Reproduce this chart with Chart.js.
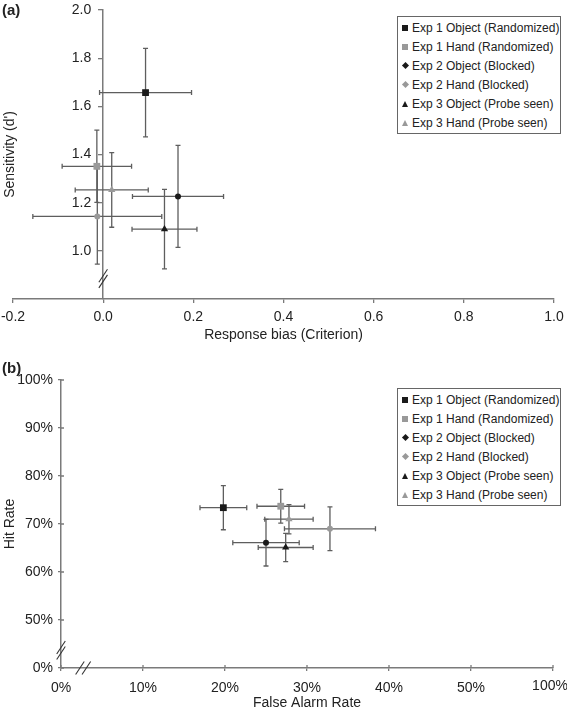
<!DOCTYPE html>
<html lang="en">
<head>
<meta charset="UTF-8">
<title>Sensitivity, bias and hit rate by experiment</title>
<script src="https://cdn.jsdelivr.net/npm/chart.js@4.4.1/dist/chart.umd.min.js"></script>
<style>
  body { margin: 0; background: #fff; font-family: 'Liberation Sans', Arial, sans-serif; color: #222; }
  .page { position: relative; width: 567px; height: 712px; overflow: hidden; }
  canvas { position: absolute; left: 0; }
  #chartA { top: 0; }
  #chartB { top: 345px; }
  .tag { position: absolute; left: 2px; font-weight: bold; font-size: 15px; line-height: 18px; }
  .legend { position: absolute; left: 397px; width: 162px; border: 1px solid #666; background: #fff; padding: 1px 0; font-size: 12px; }
  .legend .row { height: 19px; display: flex; align-items: center; white-space: nowrap; }
  .legend .slot { width: 14px; height: 19px; display: flex; align-items: center; justify-content: center; }
  .mk-square { width: 6px; height: 6px; }
  .mk-diamond { width: 5px; height: 5px; transform: rotate(45deg); }
  .mk-triangle { width: 0; height: 0; border-left: 3.5px solid transparent; border-right: 3.5px solid transparent; border-bottom: 6px solid; }
</style>
</head>
<body>
<div class="page">
  <canvas id="chartA" width="567" height="345"></canvas>
  <canvas id="chartB" width="567" height="367"></canvas>
  <div class="tag" style="top:1px">(a)</div>
  <div class="tag" style="top:359px">(b)</div>
  <div class="legend" id="legendA" style="top:16px"></div>
  <div class="legend" id="legendB" style="top:388px"></div>
</div>
<script>
const seriesNames = ['Exp 1 Object (Randomized)', 'Exp 1 Hand (Randomized)', 'Exp 2 Object (Blocked)',
                     'Exp 2 Hand (Blocked)', 'Exp 3 Object (Probe seen)', 'Exp 3 Hand (Probe seen)'];

// panel (a): criterion vs d'
const biasValues   = [0.094, -0.014, 0.166, -0.013, 0.136, 0.019];
const biasErrors   = [0.102, 0.077, 0.101, 0.143, 0.072, 0.081];
const dprimeValues = [1.657, 1.351, 1.226, 1.143, 1.090, 1.253];
const dprimeErrors = [0.184, 0.150, 0.212, 0.198, 0.165, 0.155];
const biasTicks   = [-0.2, 0, 0.2, 0.4, 0.6, 0.8, 1.0];
const dprimeTicks = [1.0, 1.2, 1.4, 1.6, 1.8, 2.0];

// panel (b): false alarm rate vs hit rate (%)
const faValues   = [19.8, 26.8, 25.0, 32.8, 27.4, 27.8];
const faErrors   = [2.85, 2.9, 4.05, 5.55, 3.35, 2.95];
const hitValues  = [73.4, 73.7, 66.1, 69.0, 65.1, 71.0];
const hitErrors  = [4.6, 3.5, 4.85, 4.55, 2.95, 3.05];
const faTicks      = [0, 10, 20, 30, 40, 50, 60];
const faTickLabels = ['0%', '10%', '20%', '30%', '40%', '50%', '100%'];
const hitTicks      = [40, 50, 60, 70, 80, 90, 100];
const hitTickLabels = ['0%', '50%', '60%', '70%', '80%', '90%', '100%'];

// styling
const seriesColors = ['#1a1a1a', '#999999', '#1a1a1a', '#999999', '#1a1a1a', '#999999'];
const pointShapes  = ['rect', 'rect', 'circle', 'circle', 'triangle', 'triangle'];
const pointSizes   = [4.8, 4.8, 3, 3, 4.2, 4.2];
const legendShapes = ['square', 'square', 'diamond', 'diamond', 'triangle', 'triangle'];
const axisColor = '#7a7a7a';
const textColor = '#222';
const font = { family: "'Liberation Sans', Arial, sans-serif", size: 14 };

// draws x/y error bars with caps, under the markers
const errorBars = {
  id: 'errorBars',
  beforeDatasetsDraw(chart, args, opts) {
    const { ctx, scales: { x, y } } = chart;
    const c = opts.cap;
    ctx.save();
    ctx.strokeStyle = opts.color;
    ctx.lineWidth = opts.width;
    chart.data.datasets.forEach(ds => {
      const p = ds.data[0];
      const px = x.getPixelForValue(p.x), py = y.getPixelForValue(p.y);
      const x0 = x.getPixelForValue(p.x - ds.errX), x1 = x.getPixelForValue(p.x + ds.errX);
      const y0 = y.getPixelForValue(p.y - ds.errY), y1 = y.getPixelForValue(p.y + ds.errY);
      ctx.beginPath();
      ctx.moveTo(x0, py); ctx.lineTo(x1, py);
      ctx.moveTo(x0, py - c); ctx.lineTo(x0, py + c);
      ctx.moveTo(x1, py - c); ctx.lineTo(x1, py + c);
      ctx.moveTo(px, y0); ctx.lineTo(px, y1);
      ctx.moveTo(px - c, y0); ctx.lineTo(px + c, y0);
      ctx.moveTo(px - c, y1); ctx.lineTo(px + c, y1);
      ctx.stroke();
    });
    ctx.restore();
  }
};

// "//" marks for broken axes
const axisBreaks = {
  id: 'axisBreaks',
  afterDraw(chart, args, opts) {
    const { ctx, scales: { x, y } } = chart;
    ctx.save();
    ctx.strokeStyle = '#333';
    ctx.lineWidth = 1.1;
    (opts.marks || []).forEach(m => {
      const onY = m.axis === 'y';
      const cx = onY ? x.getPixelForValue(m.at) : x.getPixelForValue(m.value);
      const cy = onY ? y.getPixelForValue(m.value) : y.getPixelForValue(m.at);
      [-1, 1].forEach(s => {
        const bx = cx + (onY ? 0 : s * 3.2), by = cy + (onY ? s * 2.8 : 0);
        ctx.beginPath();
        ctx.moveTo(bx - 4.3, by + 6.5);
        ctx.lineTo(bx + 4.3, by - 6.5);
        ctx.stroke();
      });
    });
    ctx.restore();
  }
};

// tick marks pointing into the plot (panel b has crossing ticks)
const innerTicks = {
  id: 'innerTicks',
  afterDraw(chart, args, opts) {
    if (!opts.length) return;
    const { ctx, scales: { x, y }, chartArea } = chart;
    ctx.save();
    ctx.strokeStyle = axisColor;
    ctx.lineWidth = 1.3;
    ctx.beginPath();
    x.ticks.forEach(t => {
      const px = x.getPixelForValue(t.value);
      ctx.moveTo(px, chartArea.bottom); ctx.lineTo(px, chartArea.bottom - opts.length);
    });
    y.ticks.forEach(t => {
      const py = y.getPixelForValue(t.value);
      ctx.moveTo(chartArea.left, py); ctx.lineTo(chartArea.left + opts.length, py);
    });
    ctx.stroke();
    ctx.restore();
  }
};

// moves tick labels after the scale laid them out
// (the y axis placed at x = 0 puts its labels flush against the line)
const labelNudge = {
  id: 'labelNudge',
  beforeDraw(chart, args, opts) {
    (opts.shifts || []).forEach(sh => {
      const items = chart.scales[sh.scale].getLabelItems(chart.chartArea);
      items.forEach((it, i) => {
        if (it._nudged || (sh.index !== undefined && sh.index !== i)) return;
        it.options.translation[0] += sh.dx;
        it.options.translation[1] += sh.dy;
        it._nudged = true;
      });
    });
  }
};

// rotated y title for the axis that sits inside the plot
const sideTitle = {
  id: 'sideTitle',
  afterDraw(chart, args, opts) {
    if (!opts.text) return;
    const { ctx, chartArea } = chart;
    ctx.save();
    ctx.translate(opts.x, (chartArea.top + chartArea.bottom) / 2);
    ctx.rotate(-Math.PI / 2);
    ctx.font = font.size + 'px ' + font.family;
    ctx.fillStyle = textColor;
    ctx.textAlign = 'center';
    ctx.textBaseline = 'middle';
    ctx.fillText(opts.text, 0, 0);
    ctx.restore();
  }
};

function makeDatasets(xs, xErr, ys, yErr) {
  return seriesNames.map((name, i) => ({
    label: name,
    data: [{ x: xs[i], y: ys[i] }],
    errX: xErr[i],
    errY: yErr[i],
    pointStyle: pointShapes[i],
    pointRadius: pointSizes[i],
    pointHoverRadius: pointSizes[i],
    backgroundColor: seriesColors[i],
    borderColor: seriesColors[i],
    borderWidth: 0
  }));
}

function setTicks(values) {
  return scale => { scale.ticks = values.map(v => ({ value: v })); };
}

function buildLegend(id) {
  const box = document.getElementById(id);
  seriesNames.forEach((name, i) => {
    const row = document.createElement('div');
    row.className = 'row';
    const slot = document.createElement('span');
    slot.className = 'slot';
    const mk = document.createElement('span');
    mk.className = 'mk-' + legendShapes[i];
    if (legendShapes[i] === 'triangle') mk.style.borderBottomColor = seriesColors[i];
    else mk.style.background = seriesColors[i];
    slot.appendChild(mk);
    const txt = document.createElement('span');
    txt.textContent = name;
    row.appendChild(slot);
    row.appendChild(txt);
    box.appendChild(row);
  });
}

const commonPlugins = {
  legend: { display: false },
  tooltip: { enabled: false },
  errorBars: { color: '#5e5e5e', width: 1.3, cap: 2.5 }
};

// panel (a)
new Chart(document.getElementById('chartA'), {
  type: 'scatter',
  data: { datasets: makeDatasets(biasValues, biasErrors, dprimeValues, dprimeErrors) },
  plugins: [labelNudge, errorBars, axisBreaks, innerTicks, sideTitle],
  options: {
    responsive: false,
    animation: false,
    layout: { padding: { left: 13, right: 13, top: 10, bottom: 0 } },
    plugins: {
      ...commonPlugins,
      labelNudge: { shifts: [{ scale: 'y', dx: -12, dy: 0 }] },
      axisBreaks: { marks: [{ axis: 'y', at: 0, value: 0.885 }] },
      innerTicks: { length: 0 },
      sideTitle: { text: "Sensitivity (d')", x: 10 }
    },
    scales: {
      x: {
        type: 'linear', position: 'bottom', min: -0.2, max: 1.0,
        afterBuildTicks: setTicks(biasTicks),
        afterFit: s => { s.height = 46; s.paddingLeft = 0; s.paddingRight = 0; },
        ticks: { callback: v => v.toFixed(1), font, color: textColor, padding: 6, maxRotation: 0 },
        grid: { drawOnChartArea: false, tickLength: 4, color: axisColor, lineWidth: 1.3 },
        border: { color: axisColor, width: 1.5 },
        title: { display: true, text: 'Response bias (Criterion)', font, color: textColor, padding: { top: 0, bottom: 1 } }
      },
      y: {
        type: 'linear', position: { x: 0 }, min: 0.8, max: 2.0,
        afterBuildTicks: setTicks(dprimeTicks),
        afterFit: s => { s.paddingTop = 0; s.paddingBottom = 0; },
        ticks: { callback: v => v.toFixed(1), font, color: textColor, padding: 8 },
        grid: { drawOnChartArea: false, tickLength: 4, color: axisColor, lineWidth: 1.3 },
        border: { color: axisColor, width: 1.5 }
      }
    }
  }
});

// panel (b)
new Chart(document.getElementById('chartB'), {
  type: 'scatter',
  data: { datasets: makeDatasets(faValues, faErrors, hitValues, hitErrors) },
  plugins: [labelNudge, errorBars, axisBreaks, innerTicks, sideTitle],
  options: {
    responsive: false,
    animation: false,
    layout: { padding: { left: 0, right: 14, top: 35, bottom: 0 } },
    plugins: {
      ...commonPlugins,
      labelNudge: { shifts: [{ scale: 'x', index: 6, dx: -3, dy: -2 }] },
      axisBreaks: { marks: [{ axis: 'y', at: 0, value: 43.7 }, { axis: 'x', at: 40, value: 2.7 }] },
      innerTicks: { length: 3 },
      sideTitle: {}
    },
    scales: {
      x: {
        type: 'linear', position: 'bottom', min: 0, max: 60,
        afterBuildTicks: setTicks(faTicks),
        afterFit: s => { s.height = 44; s.paddingLeft = 0; s.paddingRight = 0; },
        ticks: { callback: (v, i) => faTickLabels[i], font, color: textColor, padding: 9, maxRotation: 0 },
        grid: { drawOnChartArea: false, tickLength: 3, color: axisColor, lineWidth: 1.3 },
        border: { color: axisColor, width: 1.5 },
        title: { display: true, text: 'False Alarm Rate', font, color: textColor, padding: { top: 0, bottom: 0.6 } }
      },
      y: {
        type: 'linear', position: 'left', min: 40, max: 100,
        afterBuildTicks: setTicks(hitTicks),
        afterFit: s => { s.width = 61; s.paddingTop = 0; s.paddingBottom = 0; },
        ticks: { callback: (v, i) => hitTickLabels[i], font, color: textColor, padding: 5 },
        grid: { drawOnChartArea: false, tickLength: 3, color: axisColor, lineWidth: 1.3 },
        border: { color: axisColor, width: 1.5 },
        title: { display: true, text: 'Hit Rate', font, color: textColor, padding: { top: 1.6, bottom: 0 } }
      }
    }
  }
});

buildLegend('legendA');
buildLegend('legendB');
</script>
</body>
</html>
